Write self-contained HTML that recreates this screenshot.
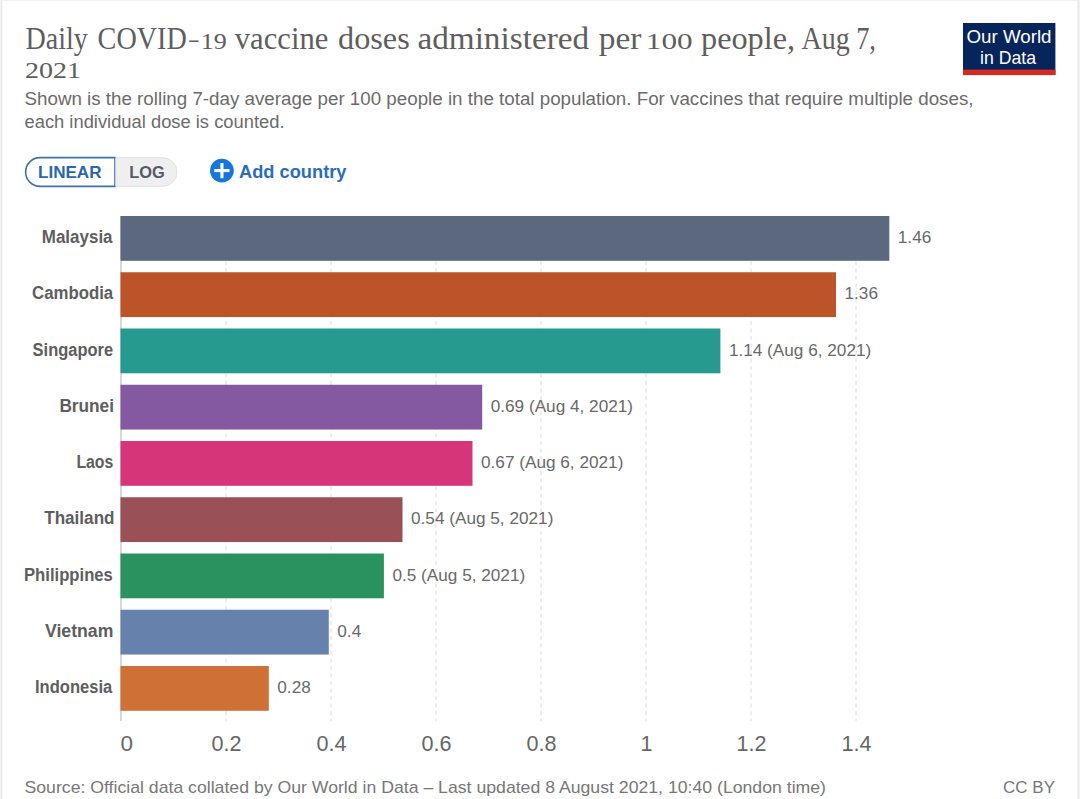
<!DOCTYPE html>
<html><head><meta charset="utf-8">
<style>
html,body{margin:0;padding:0;background:#fff;}
body{width:1080px;height:799px;overflow:hidden;position:relative;}
svg{position:absolute;left:0;top:0;}
text{font-family:"Liberation Sans",sans-serif;}
.ttl{font-family:"Liberation Serif",serif;font-size:31px;fill:#5e5e5e;}
.sub{font-size:18.7px;fill:#6b6b6b;}
.cl{font-size:17.5px;font-weight:700;fill:#5e5e5e;}
.vl{font-size:17.2px;fill:#696969;}
.tk{font-size:22.5px;fill:#666;}
.ft{font-size:17px;fill:#777;}
</style></head>
<body>
<svg width="1080" height="799" viewBox="0 0 1080 799">
<rect x="0" y="0" width="1080" height="799" fill="#fff"/>
<rect x="0" y="0" width="1080" height="1.2" fill="#f3f3f3"/>
<rect x="0" y="0" width="1" height="799" fill="#f2f2f2"/>
<rect x="1" y="0" width="1" height="799" fill="#e7e7e7"/>
<rect x="2" y="0" width="1" height="799" fill="#f9f9f9"/>
<rect x="1077" y="0" width="1" height="799" fill="#f1f0f3"/>
<rect x="1078" y="0" width="1" height="799" fill="#e8e7ea"/>
<rect x="1079" y="0" width="1" height="799" fill="#f2f2f4"/>
<text x="25.4" y="49" class="ttl" style="font-size:32px" textLength="62.37" lengthAdjust="spacingAndGlyphs">Daily</text>
<text x="97.6" y="49" class="ttl" style="font-size:32px" textLength="89.26" lengthAdjust="spacingAndGlyphs">COVID</text>
<text x="189.2" y="49" class="ttl" style="font-size:32px" textLength="9.1" lengthAdjust="spacingAndGlyphs">–</text>
<text x="200.8" y="49" class="ttl" style="font-size:23px" textLength="26.01" lengthAdjust="spacingAndGlyphs">19</text>
<text x="234.8" y="49" class="ttl" style="font-size:32px" textLength="93.49" lengthAdjust="spacingAndGlyphs">vaccine</text>
<text x="338.0" y="49" class="ttl" style="font-size:32px" textLength="71.74" lengthAdjust="spacingAndGlyphs">doses</text>
<text x="417.4" y="49" class="ttl" style="font-size:32px" textLength="171.74" lengthAdjust="spacingAndGlyphs">administered</text>
<text x="598.8" y="49" class="ttl" style="font-size:32px" textLength="42.68" lengthAdjust="spacingAndGlyphs">per</text>
<text x="645.8" y="49" class="ttl" style="font-size:23px" textLength="46.82" lengthAdjust="spacingAndGlyphs">100</text>
<text x="701.0" y="49" class="ttl" style="font-size:32px" textLength="94.11" lengthAdjust="spacingAndGlyphs">people,</text>
<text x="801.4" y="49" class="ttl" style="font-size:32px" textLength="48.3" lengthAdjust="spacingAndGlyphs">Aug</text>
<text x="856.2" y="49" class="ttl" style="font-size:32px" textLength="19.71" lengthAdjust="spacingAndGlyphs">7,</text>
<text x="25.0" y="77.7" class="ttl" style="font-size:23px" textLength="56.04" lengthAdjust="spacingAndGlyphs">2021</text>
<text x="24.5" y="105" class="sub" textLength="949" lengthAdjust="spacingAndGlyphs">Shown is the rolling 7-day average per 100 people in the total population. For vaccines that require multiple doses,</text>
<text x="24.5" y="128" class="sub" textLength="260" lengthAdjust="spacingAndGlyphs">each individual dose is counted.</text>
<path d="M115,157.6 L115,186.4 L40,186.4 A14.4,14.4 0 0 1 40,157.6 Z" fill="#fff" stroke="#3d72aa" stroke-width="1.6"/>
<path d="M115.8,157.6 L162.6,157.6 A14.4,14.4 0 0 1 162.6,186.4 L115.8,186.4 Z" fill="#efefef" stroke="#e2e2e2" stroke-width="1"/>
<text x="38" y="178.3" style="font-size:17.3px;font-weight:700;fill:#2c66ad" textLength="63.5" lengthAdjust="spacingAndGlyphs">LINEAR</text>
<text x="129.3" y="178.3" style="font-size:17.3px;font-weight:700;fill:#525b69" textLength="35.5" lengthAdjust="spacingAndGlyphs">LOG</text>
<circle cx="221.9" cy="170.6" r="11.9" fill="#1676db"/>
<rect x="220.4" y="163" width="3.1" height="15.2" fill="#fff"/>
<rect x="214.3" y="169" width="15.2" height="3.1" fill="#fff"/>
<text x="239" y="178.1" style="font-size:18.3px;font-weight:700;fill:#2b6db8" textLength="107.5" lengthAdjust="spacingAndGlyphs">Add country</text>
<rect x="963" y="23" width="92.4" height="52" fill="#06255a"/>
<rect x="963" y="69.6" width="92.4" height="5.5" fill="#d42a22"/>
<text x="966.5" y="43.4" style="font-size:18.5px;fill:#fff" textLength="85" lengthAdjust="spacingAndGlyphs">Our World</text>
<text x="980" y="63.7" style="font-size:18.5px;fill:#fff" textLength="56" lengthAdjust="spacingAndGlyphs">in Data</text>
<line x1="226.0" y1="216" x2="226.0" y2="721" stroke="#dcdcdc" stroke-width="1" stroke-dasharray="4,3.5"/>
<line x1="331.0" y1="216" x2="331.0" y2="721" stroke="#dcdcdc" stroke-width="1" stroke-dasharray="4,3.5"/>
<line x1="436.0" y1="216" x2="436.0" y2="721" stroke="#dcdcdc" stroke-width="1" stroke-dasharray="4,3.5"/>
<line x1="541.0" y1="216" x2="541.0" y2="721" stroke="#dcdcdc" stroke-width="1" stroke-dasharray="4,3.5"/>
<line x1="646.0" y1="216" x2="646.0" y2="721" stroke="#dcdcdc" stroke-width="1" stroke-dasharray="4,3.5"/>
<line x1="751.0" y1="216" x2="751.0" y2="721" stroke="#dcdcdc" stroke-width="1" stroke-dasharray="4,3.5"/>
<line x1="856.0" y1="216" x2="856.0" y2="721" stroke="#dcdcdc" stroke-width="1" stroke-dasharray="4,3.5"/>
<line x1="121.0" y1="216" x2="121.0" y2="721" stroke="#b0b0b0" stroke-width="1"/>
<rect x="120.5" y="216.00" width="768.80" height="44.8" fill="#5c687f"/>
<text x="41.8" y="243.10" class="cl" textLength="70.75" lengthAdjust="spacingAndGlyphs">Malaysia</text>
<text x="897.80" y="243.10" class="vl">1.46</text>
<rect x="120.5" y="272.25" width="715.50" height="44.8" fill="#bd5429"/>
<text x="32.0" y="299.35" class="cl" textLength="81.19" lengthAdjust="spacingAndGlyphs">Cambodia</text>
<text x="844.50" y="299.35" class="vl">1.36</text>
<rect x="120.5" y="328.50" width="599.90" height="44.8" fill="#279a90"/>
<text x="32.6" y="355.60" class="cl" textLength="80.5" lengthAdjust="spacingAndGlyphs">Singapore</text>
<text x="728.90" y="355.60" class="vl">1.14 (Aug 6, 2021)</text>
<rect x="120.5" y="384.75" width="361.70" height="44.8" fill="#8459a2"/>
<text x="59.4" y="411.85" class="cl" textLength="54.61" lengthAdjust="spacingAndGlyphs">Brunei</text>
<text x="490.70" y="411.85" class="vl">0.69 (Aug 4, 2021)</text>
<rect x="120.5" y="441.00" width="352.00" height="44.8" fill="#d7357a"/>
<text x="76.4" y="468.10" class="cl" textLength="36.92" lengthAdjust="spacingAndGlyphs">Laos</text>
<text x="481.00" y="468.10" class="vl">0.67 (Aug 6, 2021)</text>
<rect x="120.5" y="497.25" width="282.00" height="44.8" fill="#995056"/>
<text x="44.2" y="524.35" class="cl" textLength="70.36" lengthAdjust="spacingAndGlyphs">Thailand</text>
<text x="411.00" y="524.35" class="vl">0.54 (Aug 5, 2021)</text>
<rect x="120.5" y="553.50" width="263.40" height="44.8" fill="#2a925e"/>
<text x="24.0" y="580.60" class="cl" textLength="88.9" lengthAdjust="spacingAndGlyphs">Philippines</text>
<text x="392.40" y="580.60" class="vl">0.5 (Aug 5, 2021)</text>
<rect x="120.5" y="609.75" width="208.30" height="44.8" fill="#6781ad"/>
<text x="45.0" y="636.85" class="cl" textLength="68.37" lengthAdjust="spacingAndGlyphs">Vietnam</text>
<text x="337.30" y="636.85" class="vl">0.4</text>
<rect x="120.5" y="666.00" width="148.30" height="44.8" fill="#cf7137"/>
<text x="35.0" y="693.10" class="cl" textLength="77.25" lengthAdjust="spacingAndGlyphs">Indonesia</text>
<text x="277.30" y="693.10" class="vl">0.28</text>
<text x="120.5" y="750.8" class="tk" textLength="12.5" lengthAdjust="spacingAndGlyphs">0</text>
<text x="226.5" y="750.8" text-anchor="middle" class="tk" textLength="30.0" lengthAdjust="spacingAndGlyphs">0.2</text>
<text x="331.5" y="750.8" text-anchor="middle" class="tk" textLength="30.0" lengthAdjust="spacingAndGlyphs">0.4</text>
<text x="436.5" y="750.8" text-anchor="middle" class="tk" textLength="30.0" lengthAdjust="spacingAndGlyphs">0.6</text>
<text x="541.5" y="750.8" text-anchor="middle" class="tk" textLength="30.0" lengthAdjust="spacingAndGlyphs">0.8</text>
<text x="646.5" y="750.8" text-anchor="middle" class="tk" textLength="12.0" lengthAdjust="spacingAndGlyphs">1</text>
<text x="751.5" y="750.8" text-anchor="middle" class="tk" textLength="30.0" lengthAdjust="spacingAndGlyphs">1.2</text>
<text x="856.5" y="750.8" text-anchor="middle" class="tk" textLength="30.0" lengthAdjust="spacingAndGlyphs">1.4</text>
<text x="24.5" y="792.8" class="ft" textLength="801.5" lengthAdjust="spacingAndGlyphs">Source: Official data collated by Our World in Data – Last updated 8 August 2021, 10:40 (London time)</text>
<text x="1055" y="792.5" text-anchor="end" class="ft">CC BY</text>
</svg>
</body></html>
